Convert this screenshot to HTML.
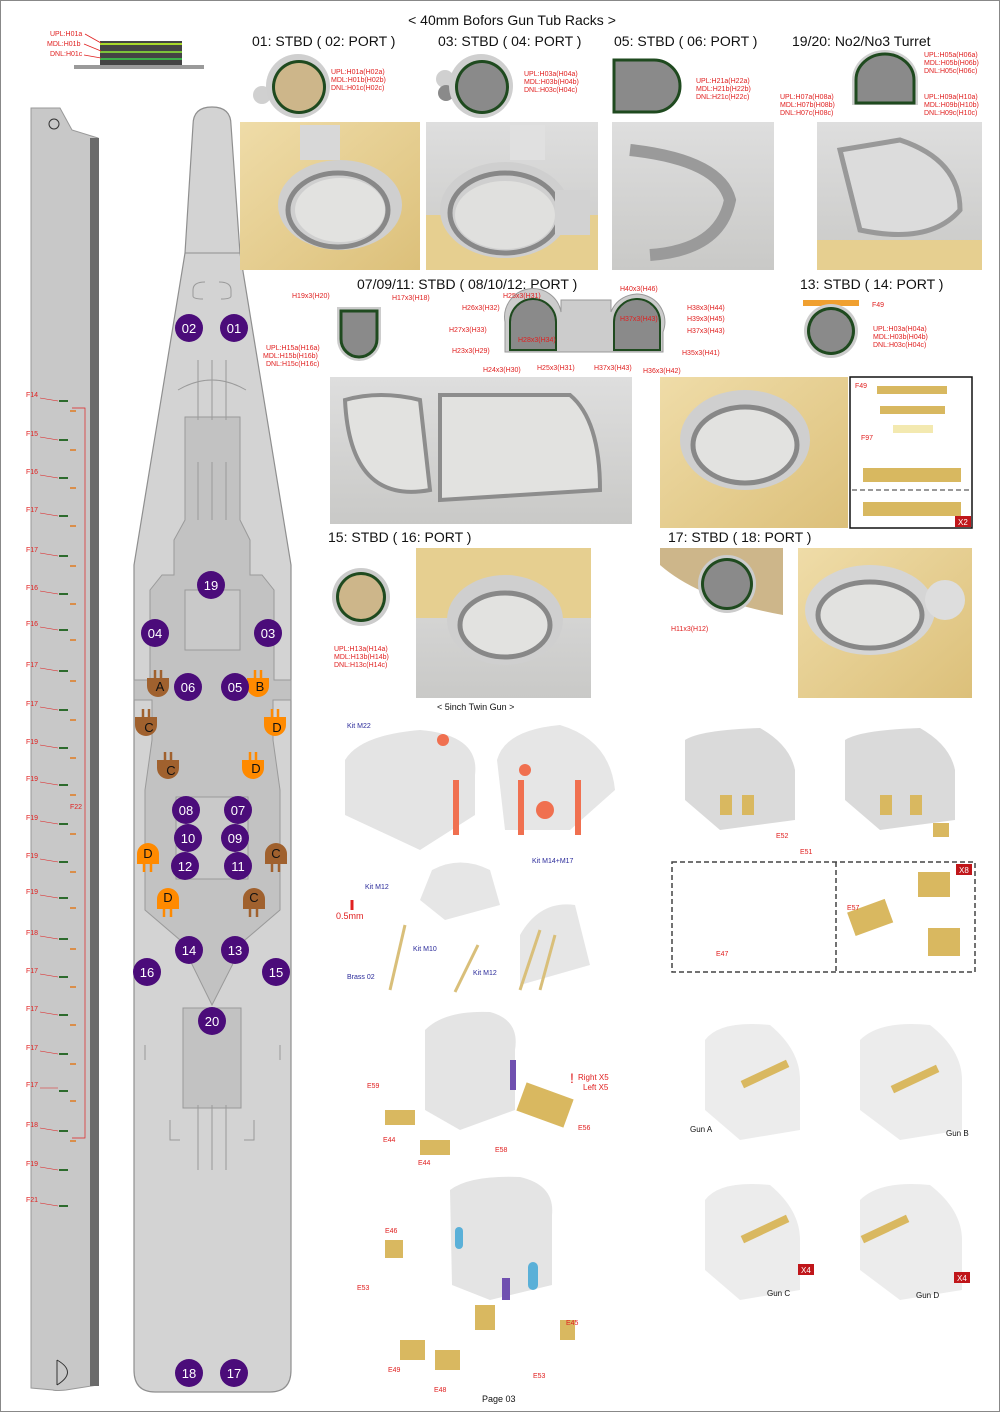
<!DOCTYPE html>
<html><head><meta charset="utf-8"><style>
html,body{margin:0;padding:0;background:#fff}
svg{display:block}
text{font-family:"Liberation Sans","DejaVu Sans",sans-serif}
</style></head><body>
<svg width="1000" height="1412" viewBox="0 0 1000 1412" xmlns="http://www.w3.org/2000/svg">
<defs>
<linearGradient id="wood" x1="0" y1="0" x2="1" y2="1"><stop offset="0" stop-color="#efdca8"/><stop offset="1" stop-color="#dcc07a"/></linearGradient>
<linearGradient id="gry" x1="0" y1="0" x2="0" y2="1"><stop offset="0" stop-color="#dedede"/><stop offset="1" stop-color="#c9c9c7"/></linearGradient>
<g id="pA"><path d="M0,0 v-8 M6,0 v-8" stroke="currentColor" stroke-width="2.5"/><path d="M-8,0 h22 v8 a11,11 0 0 1 -22,0z" fill="currentColor"/></g>
</defs>
<rect x="0.5" y="0.5" width="999" height="1411" fill="#fff" stroke="#888"/>

<!-- top rack diagram -->
<rect x="74" y="65" width="130" height="4" fill="#9a9a9a"/>
<rect x="100" y="41" width="82" height="24" fill="#444"/>
<g stroke="#a8d82a" stroke-width="2"><line x1="100" y1="44" x2="182" y2="44"/></g>
<g stroke="#7cc23a" stroke-width="2"><line x1="100" y1="52" x2="182" y2="52"/></g>
<g stroke="#3bb04a" stroke-width="2"><line x1="100" y1="59" x2="182" y2="59"/></g>
<g font-size="7" fill="#e02020"><text x="50" y="36">UPL:H01a</text><text x="47" y="46">MDL:H01b</text><text x="50" y="56">DNL:H01c</text></g>
<g stroke="#e02020" stroke-width="0.8"><line x1="85" y1="34" x2="101" y2="43"/><line x1="84" y1="44" x2="101" y2="51"/><line x1="84" y1="55" x2="101" y2="58"/></g>

<!-- side profile -->
<path d="M31,108 L60,108 L72,130 L98,138 L98,1385 L66,1390 Q55,1391 53,1390 L31,1388 Z" fill="#c8c8c8" stroke="#999"/>
<rect x="90" y="138" width="9" height="1248" fill="#6b6b6b"/>
<circle cx="54" cy="124" r="5" fill="none" stroke="#333"/>
<path d="M57,1360 Q78,1372 57,1385" fill="none" stroke="#333"/>
<line x1="57" y1="1360" x2="57" y2="1385" stroke="#333"/>

<!-- ruler -->
<g font-size="7" fill="#e02020">
<text x="26" y="397">F14</text><text x="26" y="436">F15</text><text x="26" y="474">F16</text><text x="26" y="512">F17</text><text x="26" y="552">F17</text><text x="26" y="590">F16</text><text x="26" y="626">F16</text><text x="26" y="667">F17</text><text x="26" y="706">F17</text><text x="26" y="744">F19</text><text x="26" y="781">F19</text><text x="26" y="820">F19</text><text x="26" y="858">F19</text><text x="26" y="894">F19</text><text x="26" y="935">F18</text><text x="26" y="973">F17</text><text x="26" y="1011">F17</text><text x="26" y="1050">F17</text><text x="26" y="1087">F17</text><text x="26" y="1127">F18</text><text x="26" y="1166">F19</text><text x="26" y="1202">F21</text>
<text x="70" y="809">F22</text>
</g>
<g stroke="#e02020" stroke-width="0.7" fill="none">
<path d="M72,408 H85 V1138 H72"/>
</g>
<g stroke="#2d6b2d" stroke-width="2">
<line x1="59" y1="401" x2="68" y2="401"/><line x1="59" y1="440" x2="68" y2="440"/><line x1="59" y1="478" x2="68" y2="478"/><line x1="59" y1="516" x2="68" y2="516"/><line x1="59" y1="556" x2="68" y2="556"/><line x1="59" y1="594" x2="68" y2="594"/><line x1="59" y1="630" x2="68" y2="630"/><line x1="59" y1="671" x2="68" y2="671"/><line x1="59" y1="710" x2="68" y2="710"/><line x1="59" y1="748" x2="68" y2="748"/><line x1="59" y1="785" x2="68" y2="785"/><line x1="59" y1="824" x2="68" y2="824"/><line x1="59" y1="862" x2="68" y2="862"/><line x1="59" y1="898" x2="68" y2="898"/><line x1="59" y1="939" x2="68" y2="939"/><line x1="59" y1="977" x2="68" y2="977"/><line x1="59" y1="1015" x2="68" y2="1015"/><line x1="59" y1="1054" x2="68" y2="1054"/><line x1="59" y1="1091" x2="68" y2="1091"/><line x1="59" y1="1131" x2="68" y2="1131"/><line x1="59" y1="1170" x2="68" y2="1170"/><line x1="59" y1="1206" x2="68" y2="1206"/>
</g>
<g stroke="#e07a20" stroke-width="1.5">
<line x1="70" y1="411" x2="76" y2="411"/><line x1="70" y1="450" x2="76" y2="450"/><line x1="70" y1="488" x2="76" y2="488"/><line x1="70" y1="526" x2="76" y2="526"/><line x1="70" y1="566" x2="76" y2="566"/><line x1="70" y1="604" x2="76" y2="604"/><line x1="70" y1="640" x2="76" y2="640"/><line x1="70" y1="681" x2="76" y2="681"/><line x1="70" y1="720" x2="76" y2="720"/><line x1="70" y1="758" x2="76" y2="758"/><line x1="70" y1="795" x2="76" y2="795"/><line x1="70" y1="834" x2="76" y2="834"/><line x1="70" y1="872" x2="76" y2="872"/><line x1="70" y1="908" x2="76" y2="908"/><line x1="70" y1="949" x2="76" y2="949"/><line x1="70" y1="987" x2="76" y2="987"/><line x1="70" y1="1025" x2="76" y2="1025"/><line x1="70" y1="1064" x2="76" y2="1064"/><line x1="70" y1="1101" x2="76" y2="1101"/><line x1="70" y1="1141" x2="76" y2="1141"/>
</g>
<g stroke="#e02020" stroke-width="0.6"><line x1="40" y1="398" x2="58" y2="401"/><line x1="40" y1="437" x2="58" y2="440"/><line x1="40" y1="475" x2="58" y2="478"/><line x1="40" y1="513" x2="58" y2="516"/><line x1="40" y1="553" x2="58" y2="556"/><line x1="40" y1="591" x2="58" y2="594"/><line x1="40" y1="627" x2="58" y2="630"/><line x1="40" y1="668" x2="58" y2="671"/><line x1="40" y1="707" x2="58" y2="710"/><line x1="40" y1="745" x2="58" y2="748"/><line x1="40" y1="782" x2="58" y2="785"/><line x1="40" y1="821" x2="58" y2="824"/><line x1="40" y1="859" x2="58" y2="862"/><line x1="40" y1="895" x2="58" y2="898"/><line x1="40" y1="936" x2="58" y2="939"/><line x1="40" y1="974" x2="58" y2="977"/><line x1="40" y1="1012" x2="58" y2="1015"/><line x1="40" y1="1051" x2="58" y2="1054"/><line x1="40" y1="1088" x2="58" y2="1088"/><line x1="40" y1="1128" x2="58" y2="1131"/><line x1="40" y1="1167" x2="58" y2="1170"/><line x1="40" y1="1203" x2="58" y2="1206"/></g>

<!-- hull top view -->
<path d="M212,107 Q231,107 231,125 L240,253 L291,565 L291,1370 Q291,1392 270,1392 L155,1392 Q134,1392 134,1370 L134,565 L185,253 L193,125 Q193,107 212,107 Z" fill="#d3d3d3" stroke="#8f8f8f" stroke-width="1.2"/>
<line x1="185" y1="253" x2="240" y2="253" stroke="#8f8f8f"/>
<path d="M185,417 H240 V520 L250,540 V575 H262 L274,590 V680 H291 V700 H273 V740 L280,790 V910 L245,940 L212,1005 L180,940 L145,910 V790 L152,740 V700 H134 V680 H150 V590 L162,575 H174 V540 L185,520 Z" fill="#c2c2c2" stroke="#9a9a9a"/>
<rect x="183" y="1008" width="58" height="100" fill="#c2c2c2" stroke="#999"/>
<rect x="185" y="590" width="55" height="60" fill="#c9c9c9" stroke="#9a9a9a"/>
<rect x="176" y="797" width="72" height="82" fill="#c9c9c9" stroke="#9a9a9a"/>
<g stroke="#9a9a9a" fill="none"><path d="M198,360 V420 M212,360 V420 M226,360 V420"/><path d="M198,462 V520 M212,462 V520 M226,462 V520"/><path d="M198,1105 V1170 M212,1105 V1170 M226,1105 V1170"/>
<path d="M178,390 Q212,370 246,390"/>
<path d="M205,282 q-12,0 -12,8 v6 q0,3 10,3 M219,282 q12,0 12,8 v6 q0,3 -10,3"/><path d="M170,1120 v20 h10 M254,1120 v20 h-10"/>
<path d="M145,1045 v15 M280,1045 v15"/></g>

<!-- markers -->
<use href="#pA" x="155" y="678" color="#a0612e"/><use href="#pA" x="255" y="678" color="#ff8a00"/>
<use href="#pA" x="143" y="717" color="#a0612e"/><use href="#pA" x="272" y="717" color="#ff8a00"/>
<use href="#pA" x="165" y="760" color="#a0612e"/><use href="#pA" x="250" y="760" color="#ff8a00"/>
<g fill="#ff8a00"><path d="M137,864 h22 v-10 a11,11 0 0 0 -22,0z"/><path d="M157,909 h22 v-10 a11,11 0 0 0 -22,0z"/></g>
<g fill="#a0612e"><path d="M265,864 h22 v-10 a11,11 0 0 0 -22,0z"/><path d="M243,909 h22 v-10 a11,11 0 0 0 -22,0z"/></g>
<g stroke="#ff8a00" stroke-width="2.5"><path d="M144,864 v8 M151,864 v8 M164,909 v8 M171,909 v8"/></g>
<g stroke="#a0612e" stroke-width="2.5"><path d="M272,864 v8 M279,864 v8 M250,909 v8 M257,909 v8"/></g>
<g font-size="13" fill="#111" text-anchor="middle">
<text x="160" y="691">A</text><text x="260" y="691">B</text><text x="149" y="732">C</text><text x="277" y="732">D</text><text x="171" y="775">C</text><text x="256" y="773">D</text><text x="148" y="858">D</text><text x="276" y="858">C</text><text x="168" y="902">D</text><text x="254" y="902">C</text>
</g>
<!-- circles -->
<g fill="#4b0c7a">
<circle cx="189" cy="328" r="14"/><circle cx="234" cy="328" r="14"/><circle cx="211" cy="585" r="14"/><circle cx="155" cy="633" r="14"/><circle cx="268" cy="633" r="14"/><circle cx="188" cy="687" r="14"/><circle cx="235" cy="687" r="14"/><circle cx="186" cy="810" r="14"/><circle cx="238" cy="810" r="14"/><circle cx="188" cy="838" r="14"/><circle cx="235" cy="838" r="14"/><circle cx="185" cy="866" r="14"/><circle cx="238" cy="866" r="14"/><circle cx="189" cy="950" r="14"/><circle cx="235" cy="950" r="14"/><circle cx="147" cy="972" r="14"/><circle cx="276" cy="972" r="14"/><circle cx="212" cy="1021" r="14"/><circle cx="189" cy="1373" r="14"/><circle cx="234" cy="1373" r="14"/>
</g>
<g font-size="13" fill="#fff" text-anchor="middle">
<text x="189" y="333">02</text><text x="234" y="333">01</text><text x="211" y="590">19</text><text x="155" y="638">04</text><text x="268" y="638">03</text><text x="188" y="692">06</text><text x="235" y="692">05</text><text x="186" y="815">08</text><text x="238" y="815">07</text><text x="188" y="843">10</text><text x="235" y="843">09</text><text x="185" y="871">12</text><text x="238" y="871">11</text><text x="189" y="955">14</text><text x="235" y="955">13</text><text x="147" y="977">16</text><text x="276" y="977">15</text><text x="212" y="1026">20</text><text x="189" y="1378">18</text><text x="234" y="1378">17</text>
</g>

<!-- titles -->
<g font-size="14" fill="#111">
<text x="512" y="25" text-anchor="middle">&lt; 40mm Bofors Gun Tub Racks &gt;</text>
<text x="252" y="46">01: STBD ( 02: PORT )</text>
<text x="438" y="46">03: STBD ( 04: PORT )</text>
<text x="614" y="46">05: STBD ( 06: PORT )</text>
<text x="792" y="46">19/20: No2/No3 Turret</text>
<text x="357" y="289">07/09/11: STBD ( 08/10/12: PORT )</text>
<text x="800" y="289">13: STBD ( 14: PORT )</text>
<text x="328" y="542">15: STBD ( 16: PORT )</text>
<text x="668" y="542">17: STBD ( 18: PORT )</text>
</g>
<text x="437" y="710" font-size="9" fill="#111">&lt; 5inch Twin Gun &gt;</text>
<text x="482" y="1402" font-size="9" fill="#111">Page 03</text>

<!-- small tub diagrams -->
<g>
<circle cx="262" cy="95" r="9" fill="#d0d0d0"/><circle cx="298" cy="86" r="32" fill="#cfcfcf"/><circle cx="299" cy="87" r="27" fill="#1f4a1f"/><circle cx="299" cy="87" r="24" fill="#cdb68a"/>
<circle cx="445" cy="79" r="9" fill="#d0d0d0"/><circle cx="446" cy="93" r="8" fill="#8a8a8a"/><circle cx="481" cy="86" r="32" fill="#cfcfcf"/><circle cx="482" cy="87" r="27" fill="#1f4a1f"/><circle cx="482" cy="87" r="24" fill="#8a8a8a"/>
<path d="M614,60 h40 a26,26 0 0 1 0,52 h-40z" fill="#8a8a8a" stroke="#1f4a1f" stroke-width="3"/>
<path d="M852,105 v-25 a33,30 0 0 1 66,0 v25z" fill="#d0d0d0"/><path d="M856,103 v-23 a29,26 0 0 1 58,0 v23z" fill="#8a8a8a" stroke="#1f4a1f" stroke-width="3"/>
<path d="M337,307 h44 v32 a22,22 0 0 1 -44,0z" fill="#ccc"/><path d="M341,311 h36 v28 a18,18 0 0 1 -36,0z" fill="#8a8a8a" stroke="#1f4a1f" stroke-width="3"/>
<path d="M505,322 a23,23 0 0 1 56,-10 v-12 h50 v12 a23,23 0 0 1 52,20 v20 h-158z" fill="#ccc" stroke="#999"/>
<path d="M510,322 a20,20 0 0 1 46,0 v28 h-46z M614,322 a20,20 0 0 1 46,0 v28 h-46z" fill="#8a8a8a" stroke="#1f4a1f" stroke-width="2"/>
<rect x="803" y="300" width="56" height="6" fill="#f0a030"/>
<circle cx="831" cy="331" r="27" fill="#ccc"/><circle cx="831" cy="331" r="24" fill="#1f4a1f"/><circle cx="831" cy="331" r="21" fill="#8a8a8a"/>
<circle cx="361" cy="597" r="29" fill="#ccc"/><circle cx="361" cy="597" r="25" fill="#1f4a1f"/><circle cx="361" cy="597" r="22" fill="#cdb68a"/>
<path d="M660,548 H783 V615 Q700,600 660,565 Z" fill="#cdb68a"/>
<circle cx="727" cy="584" r="29" fill="#ccc"/><circle cx="727" cy="584" r="26" fill="#1f4a1f"/><circle cx="727" cy="584" r="23" fill="#8a8a8a"/>
</g>
<g font-size="7" fill="#e02020">
<text x="331" y="74">UPL:H01a(H02a)</text><text x="331" y="82">MDL:H01b(H02b)</text><text x="331" y="90">DNL:H01c(H02c)</text>
<text x="524" y="76">UPL:H03a(H04a)</text><text x="524" y="84">MDL:H03b(H04b)</text><text x="524" y="92">DNL:H03c(H04c)</text>
<text x="696" y="83">UPL:H21a(H22a)</text><text x="696" y="91">MDL:H21b(H22b)</text><text x="696" y="99">DNL:H21c(H22c)</text>
<text x="924" y="57">UPL:H05a(H06a)</text><text x="924" y="65">MDL:H05b(H06b)</text><text x="924" y="73">DNL:H05c(H06c)</text>
<text x="780" y="99">UPL:H07a(H08a)</text><text x="780" y="107">MDL:H07b(H08b)</text><text x="780" y="115">DNL:H07c(H08c)</text>
<text x="924" y="99">UPL:H09a(H10a)</text><text x="924" y="107">MDL:H09b(H10b)</text><text x="924" y="115">DNL:H09c(H10c)</text>
<text x="292" y="298">H19x3(H20)</text><text x="392" y="300">H17x3(H18)</text>
<text x="266" y="350">UPL:H15a(H16a)</text><text x="263" y="358">MDL:H15b(H16b)</text><text x="266" y="366">DNL:H15c(H16c)</text>
<text x="503" y="298">H25x3(H31)</text><text x="620" y="291">H40x3(H46)</text><text x="462" y="310">H26x3(H32)</text><text x="687" y="310">H38x3(H44)</text>
<text x="620" y="321">H37x3(H43)</text><text x="687" y="321">H39x3(H45)</text><text x="449" y="332">H27x3(H33)</text><text x="687" y="333">H37x3(H43)</text>
<text x="518" y="342">H28x3(H34)</text><text x="452" y="353">H23x3(H29)</text><text x="682" y="355">H35x3(H41)</text>
<text x="483" y="372">H24x3(H30)</text><text x="537" y="370">H25x3(H31)</text><text x="594" y="370">H37x3(H43)</text><text x="643" y="373">H36x3(H42)</text>
<text x="872" y="307">F49</text>
<text x="873" y="331">UPL:H03a(H04a)</text><text x="873" y="339">MDL:H03b(H04b)</text><text x="873" y="347">DNL:H03c(H04c)</text>
<text x="334" y="651">UPL:H13a(H14a)</text><text x="334" y="659">MDL:H13b(H14b)</text><text x="334" y="667">DNL:H13c(H14c)</text>
<text x="671" y="631">H11x3(H12)</text>
</g>

<!-- photos row 1 -->
<rect x="240" y="122" width="180" height="148" fill="url(#wood)"/>
<ellipse cx="340" cy="205" rx="62" ry="45" fill="#cfcfcf"/><ellipse cx="340" cy="210" rx="45" ry="32" fill="#e2e2e0"/><ellipse cx="338" cy="210" rx="50" ry="37" fill="none" stroke="#888" stroke-width="5"/>
<rect x="300" y="125" width="40" height="35" fill="#d8d8d8"/>
<rect x="426" y="122" width="172" height="148" fill="url(#gry)"/>
<rect x="426" y="215" width="172" height="55" fill="#e6cf90"/>
<ellipse cx="505" cy="210" rx="65" ry="48" fill="#cfcfcf"/><ellipse cx="505" cy="215" rx="50" ry="34" fill="#e0e0de"/><ellipse cx="505" cy="213" rx="55" ry="40" fill="none" stroke="#888" stroke-width="5"/>
<rect x="510" y="125" width="35" height="35" fill="#e0e0e0"/><rect x="555" y="190" width="35" height="45" fill="#d2d2d2"/>
<rect x="612" y="122" width="162" height="148" fill="url(#gry)"/>
<path d="M630,150 Q720,160 730,200 Q720,250 650,255" fill="none" stroke="#9a9a9a" stroke-width="12"/>
<rect x="817" y="122" width="165" height="148" fill="url(#gry)"/>
<rect x="817" y="240" width="165" height="30" fill="#e6cf90"/>
<path d="M840,150 L900,140 Q960,160 960,210 Q930,245 860,230 Z" fill="#dcdcdc" stroke="#999" stroke-width="5"/>

<!-- row 2 photos -->
<rect x="330" y="377" width="302" height="147" fill="url(#gry)"/>
<path d="M345,400 Q380,390 420,400 L430,490 Q350,505 345,400Z M440,395 L570,395 Q600,420 600,490 L440,500Z" fill="#e2e2e0" stroke="#8d8d8d" stroke-width="4"/>
<rect x="660" y="377" width="188" height="151" fill="url(#wood)"/>
<ellipse cx="745" cy="440" rx="65" ry="50" fill="#cfcfcf"/><ellipse cx="745" cy="445" rx="52" ry="38" fill="#e2e2e0" stroke="#888" stroke-width="5"/>
<rect x="850" y="377" width="122" height="151" fill="#fff" stroke="#111" stroke-width="1.5"/>
<line x1="852" y1="490" x2="970" y2="490" stroke="#333" stroke-dasharray="5,3"/>
<g fill="#d8b860"><rect x="877" y="386" width="70" height="8"/><rect x="880" y="406" width="65" height="8"/><rect x="893" y="425" width="40" height="8" fill="#f3e9b0"/><rect x="863" y="468" width="98" height="14"/><rect x="863" y="502" width="98" height="14"/></g>
<text x="855" y="388" font-size="7" fill="#e02020">F49</text><text x="861" y="440" font-size="7" fill="#e02020">F97</text>
<rect x="955" y="516" width="16" height="11" fill="#c0161a"/><text x="958" y="525" font-size="8" fill="#fff">X2</text>
<rect x="416" y="548" width="175" height="150" fill="url(#gry)"/>
<rect x="416" y="548" width="175" height="70" fill="#e6cf90"/>
<ellipse cx="505" cy="620" rx="58" ry="45" fill="#cfcfcf"/><ellipse cx="505" cy="625" rx="45" ry="32" fill="#e2e2e0" stroke="#888" stroke-width="5"/>
<rect x="798" y="548" width="174" height="150" fill="url(#wood)"/>
<ellipse cx="870" cy="610" rx="65" ry="45" fill="#d5d5d5"/><ellipse cx="870" cy="615" rx="52" ry="33" fill="#e2e2e0" stroke="#888" stroke-width="5"/>
<circle cx="945" cy="600" r="20" fill="#ddd"/>

<!-- 5inch gun section -->
<path d="M345,760 Q360,735 420,730 Q480,735 475,775 V815 L420,850 L345,815Z" fill="#e4e4e4"/>
<path d="M497,760 Q505,730 560,725 Q610,740 615,790 L570,830 H505 Z" fill="#e6e6e6"/>
<g fill="#f07050"><rect x="453" y="780" width="6" height="55"/><rect x="575" y="780" width="6" height="55"/><rect x="518" y="780" width="6" height="55"/><circle cx="443" cy="740" r="6"/><circle cx="525" cy="770" r="6"/><circle cx="545" cy="810" r="9"/></g>
<path d="M432,870 Q460,855 490,870 L500,905 L445,920 L420,900Z" fill="#e6e6e6"/>
<path d="M520,935 Q540,900 575,905 L590,965 L520,985 Z" fill="#e6e6e6"/>
<g stroke="#d9bf7a" stroke-width="3"><line x1="405" y1="925" x2="390" y2="990"/><line x1="478" y1="945" x2="455" y2="992"/><line x1="540" y1="930" x2="520" y2="990"/><line x1="555" y1="935" x2="540" y2="990"/></g>
<g font-size="7" fill="#2a2a9a"><text x="347" y="728">Kit M22</text><text x="532" y="863">Kit M14+M17</text><text x="365" y="889">Kit M12</text><text x="413" y="951">Kit M10</text><text x="473" y="975">Kit M12</text><text x="347" y="979">Brass 02</text></g>
<text x="336" y="919" font-size="9" fill="#e02020">0.5mm</text>
<line x1="352" y1="900" x2="352" y2="910" stroke="#e02020" stroke-width="3"/>

<!-- right gun section -->
<path d="M685,740 Q700,730 760,728 Q790,745 795,770 V820 L720,830 L685,800Z" fill="#dadada"/>
<path d="M845,740 Q860,730 920,728 Q950,745 955,770 V820 L880,830 L845,800Z" fill="#dadada"/>
<g fill="#d9b860"><rect x="720" y="795" width="12" height="20"/><rect x="742" y="795" width="12" height="20"/><rect x="880" y="795" width="12" height="20"/><rect x="910" y="795" width="12" height="20"/><rect x="933" y="823" width="16" height="14"/></g>
<rect x="672" y="862" width="303" height="110" fill="none" stroke="#444" stroke-dasharray="5,3" stroke-width="1.5"/>
<line x1="836" y1="862" x2="836" y2="972" stroke="#444" stroke-dasharray="5,3" stroke-width="1.5"/>
<rect x="956" y="864" width="16" height="11" fill="#c0161a"/><text x="959" y="873" font-size="8" fill="#fff">X8</text>
<g fill="#d9b860"><rect x="850" y="905" width="40" height="25" transform="rotate(-20 870 917)"/><rect x="918" y="872" width="32" height="25"/><rect x="928" y="928" width="32" height="28"/></g>
<g font-size="7" fill="#e02020"><text x="776" y="838">E52</text><text x="800" y="854">E51</text><text x="716" y="956">E47</text><text x="847" y="910">E57</text></g>

<!-- lower sections -->
<path d="M425,1030 Q445,1010 490,1012 Q520,1020 515,1050 V1110 L460,1130 L425,1110Z" fill="#e4e4e4"/>
<path d="M450,1190 Q470,1175 520,1177 Q555,1185 552,1215 V1285 L490,1300 L452,1285Z" fill="#e4e4e4"/>
<path d="M705,1040 Q720,1020 770,1025 Q800,1050 800,1080 V1130 L740,1140 L705,1110Z" fill="#ececec"/>
<path d="M860,1040 Q880,1020 930,1025 Q962,1050 962,1080 V1130 L900,1140 L860,1110Z" fill="#ececec"/>
<path d="M705,1200 Q720,1180 770,1185 Q800,1210 800,1240 V1290 L740,1300 L705,1270Z" fill="#ececec"/>
<path d="M860,1200 Q880,1180 930,1185 Q962,1210 962,1240 V1290 L900,1300 L860,1270Z" fill="#ececec"/>
<g fill="#d9b860"><rect x="740" y="1070" width="50" height="8" transform="rotate(-25 765 1074)"/><rect x="890" y="1075" width="50" height="8" transform="rotate(-25 915 1079)"/><rect x="740" y="1225" width="50" height="8" transform="rotate(-25 765 1229)"/><rect x="860" y="1225" width="50" height="8" transform="rotate(-25 885 1229)"/></g>
<g fill="#d9b860"><rect x="385" y="1110" width="30" height="15"/><rect x="420" y="1140" width="30" height="15"/><rect x="520" y="1090" width="50" height="30" transform="rotate(20 545 1105)"/><rect x="385" y="1240" width="18" height="18"/><rect x="400" y="1340" width="25" height="20"/><rect x="435" y="1350" width="25" height="20"/><rect x="475" y="1305" width="20" height="25"/><rect x="560" y="1320" width="15" height="20"/></g>
<g fill="#5ab0d8"><rect x="455" y="1227" width="8" height="22" rx="4"/><rect x="528" y="1262" width="10" height="28" rx="5"/></g>
<rect x="510" y="1060" width="6" height="30" fill="#7050b0"/><rect x="502" y="1278" width="8" height="22" fill="#7050b0"/>
<g font-size="7" fill="#e02020"><text x="367" y="1088">E59</text><text x="383" y="1142">E44</text><text x="418" y="1165">E44</text><text x="495" y="1152">E58</text><text x="578" y="1130">E56</text><text x="385" y="1233">E46</text><text x="357" y="1290">E53</text><text x="388" y="1372">E49</text><text x="434" y="1392">E48</text><text x="533" y="1378">E53</text><text x="566" y="1325">E45</text></g>
<text x="570" y="1083" font-size="14" fill="#e02020">!</text>
<g font-size="8" fill="#e02020"><text x="578" y="1080">Right  X5</text><text x="583" y="1090">Left  X5</text></g>
<g font-size="8" fill="#111"><text x="690" y="1132">Gun A</text><text x="946" y="1136">Gun B</text><text x="767" y="1296">Gun C</text><text x="916" y="1298">Gun D</text></g>
<rect x="798" y="1264" width="16" height="11" fill="#c0161a"/><text x="801" y="1273" font-size="8" fill="#fff">X4</text>
<rect x="954" y="1272" width="16" height="11" fill="#c0161a"/><text x="957" y="1281" font-size="8" fill="#fff">X4</text>
</svg>
</body></html>
